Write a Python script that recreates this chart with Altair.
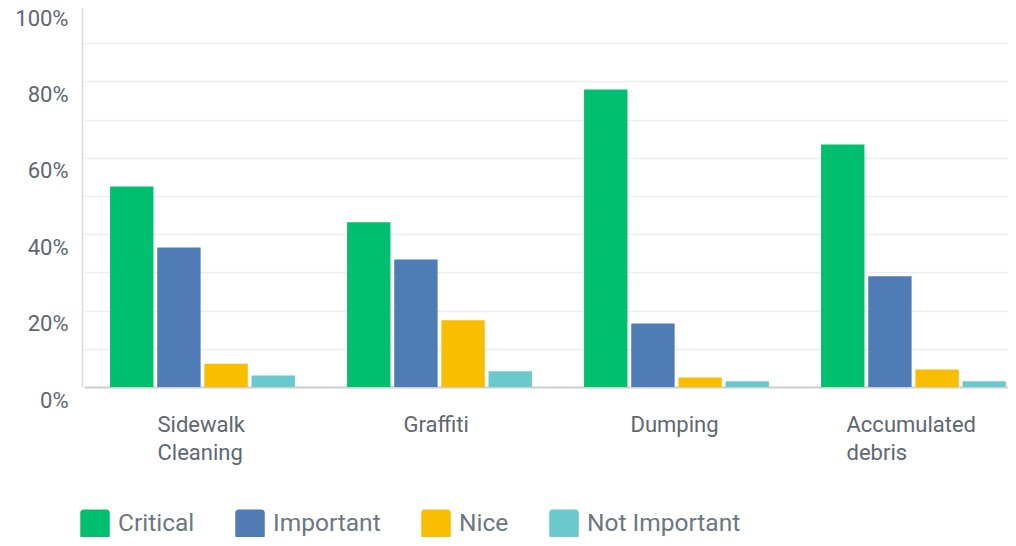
import altair as alt
import pandas as pd

categories = ["Sidewalk Cleaning", "Graffiti", "Dumping", "Accumulated debris"]
levels = ["Critical", "Important", "Nice", "Not Important"]
critical = [52.5, 43.1, 77.9, 63.5]
important = [36.5, 33.4, 16.6, 29.0]
nice = [6.1, 17.5, 2.5, 4.6]
not_important = [3.0, 4.1, 1.5, 1.5]
colors = ["#00BF6F", "#507CB6", "#F9BE00", "#6BC8CD"]
y_ticks = [0, 10, 20, 30, 40, 50, 60, 70, 80, 90, 100]

rows = []
for lvl, series in zip(levels, [critical, important, nice, not_important]):
    for cat, v in zip(categories, series):
        rows.append({"category": cat, "level": lvl, "value": v})
df = pd.DataFrame(rows)

FONT = "Roboto"
label_offsets = {
    "Sidewalk Cleaning": -45,
    "Graffiti": -36,
    "Dumping": -46,
    "Accumulated debris": -67,
}
rounded = ("M-1,-0.75 Q-1,-1 -0.75,-1 L0.75,-1 Q1,-1 1,-0.75 L1,0.75 "
           "Q1,1 0.75,1 L-0.75,1 Q-1,1 -1,0.75 Z")

chart = alt.Chart(df).mark_bar().encode(
    x=alt.X(
        "category:N",
        sort=categories,
        title=None,
        scale=alt.Scale(range=[2, 950], paddingInner=0.22, paddingOuter=0.11),
        axis=alt.Axis(
            labelAngle=0,
            labelAlign="left",
            labelBaseline="top",
            labelExpr="split(datum.label, ' ')",
            labelOffset={
                "condition": [
                    {"test": f"datum.value === '{k}'", "value": v}
                    for k, v in label_offsets.items()
                ],
                "value": -45,
            },
            labelFont=FONT,
            labelFontSize=22,
            labelColor="#5d6870",
            labelLineHeight=28,
            labelPadding=27,
            ticks=False,
            domainColor="#cfcfcf",
            domainWidth=2,
            grid=False,
        ),
    ),
    xOffset=alt.XOffset(
        "level:N", sort=levels, scale=alt.Scale(paddingInner=0.08, paddingOuter=0)
    ),
    y=alt.Y(
        "value:Q",
        title=None,
        scale=alt.Scale(domain=[0, 100], range=[379, -3], nice=False),
        axis=alt.Axis(
            values=y_ticks,
            labelExpr="datum.value % 20 == 0 ? datum.value + '%' : ''",
            labelFont=FONT,
            labelFontSize=22,
            labelColor="#5d6870",
            labelBaseline="top",
            labelOffset=3,
            labelPadding=14,
            ticks=False,
            domainColor="#dcdcdc",
            domainWidth=1.5,
            gridColor="#ededed",
            gridWidth=1.5,
        ),
    ),
    color=alt.Color(
        "level:N",
        sort=levels,
        scale=alt.Scale(domain=levels, range=colors),
        legend=alt.Legend(
            title=None,
            orient="none",
            direction="horizontal",
            legendX=-2,
            legendY=501,
            padding=0,
            symbolType=rounded,
            symbolSize=870,
            symbolStrokeWidth=0,
            symbolOpacity=1,
            labelFont=FONT,
            labelFontSize=24.5,
            labelColor="#6b787f",
            labelOffset=8,
            columnPadding=40,
        ),
    ),
).properties(
    width=926,
    height=379,
    autosize=alt.AutoSizeParams(type="none"),
    padding={"left": 74, "top": 0, "right": 0, "bottom": 150},
).configure_view(stroke=None)

chart.save("out.html", embed_options={"renderer": "svg", "actions": False})
